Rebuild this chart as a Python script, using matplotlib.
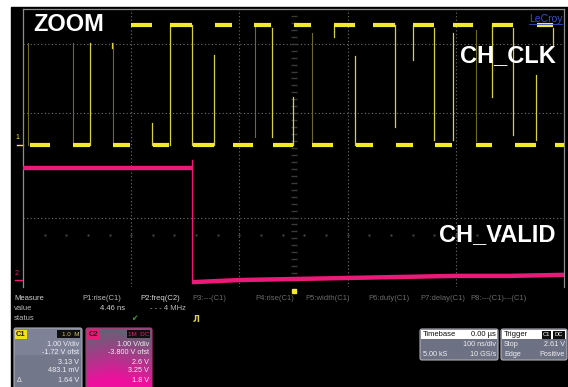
import numpy as np
import matplotlib
matplotlib.use('Agg')
import matplotlib.pyplot as plt
from matplotlib.patches import Rectangle, FancyBboxPatch

plt.rcParams['font.family'] = ['Liberation Sans', 'DejaVu Sans']

# time axis in divisions (0..10), voltage axis in divisions (0..8)
clk_high = 7.54
clk_low = 4.09
clk_high_segs = [(2.00, 2.38), (2.72, 3.12), (3.55, 3.86), (4.27, 4.58), (5.01, 5.32),
                 (5.75, 6.14), (6.47, 6.88), (7.21, 7.60), (7.95, 8.32), (8.67, 9.06),
                 (9.50, 9.80)]
clk_low_segs = [(0.13, 0.50), (0.92, 1.24), (1.66, 1.98), (2.40, 2.70), (3.14, 3.53),
                (3.88, 4.25), (4.62, 4.99), (5.34, 5.73), (6.16, 6.47), (6.89, 7.21),
                (7.62, 7.93), (8.37, 8.67), (9.09, 9.48), (9.83, 10.0)]
# (time, from, to) of the visible clock edges
clk_edges = [(1.24, 4.09, 7.02), (1.64, 7.02, 6.88), (2.38, 4.72, 4.09), (2.72, 4.09, 7.54),
             (3.12, 7.54, 4.09), (3.53, 4.09, 6.68), (4.60, 7.45, 4.32), (4.99, 4.09, 5.47),
             (5.75, 7.54, 7.19), (6.14, 6.65, 4.09), (6.88, 7.54, 4.60), (7.21, 6.53, 7.54),
             (7.60, 7.45, 4.23), (7.95, 4.23, 7.31), (8.67, 5.47, 7.54), (9.06, 7.45, 4.37),
             (9.48, 4.23, 6.10), (9.80, 7.45, 6.96)]
clk_ghost_edges = [(0.09, 7.02, 4.09), (0.92, 7.02, 4.15), (1.66, 7.02, 4.15),
                   (4.29, 7.54, 4.32), (5.34, 7.31, 4.15), (8.37, 7.40, 4.20)]

valid_high = 3.42
valid_high_t = (0.0, 3.12)
valid_edge = (3.12, 3.65, 0.12)
valid_low_t = [3.14, 4.0, 5.0, 6.0, 7.0, 8.0, 9.0, 10.0]
valid_low_v = [0.14, 0.20, 0.23, 0.26, 0.29, 0.32, 0.32, 0.35]

YEL = '#f2ea2a'
YEL_DIM = '#6f6a28'
PINK = '#ea1a78'
GRID = '#707070'

fig = plt.figure(figsize=(5.68, 3.87), dpi=100, facecolor='white')
fig.patches.append(Rectangle((11 / 568, 0), 557 / 568, 380 / 387, transform=fig.transFigure,
                             color='black', zorder=-5))

ax = fig.add_axes([23 / 568, 100 / 387, 541 / 568, 278 / 387], facecolor='black')
ax.set_xlim(0, 10)
ax.set_ylim(0, 8)
ax.set_xticks([])
ax.set_yticks([])
for side, sp in ax.spines.items():
    sp.set_color('#8c8c8c')
    sp.set_linewidth(0.9)
ax.spines['bottom'].set_visible(False)

# graticule
for x in [2, 4, 6, 8]:
    ax.axvline(x, color=GRID, ls=(0, (1, 2.2)), lw=0.8, zorder=1)
for y in [2, 5, 7]:
    ax.axhline(y, color=GRID, ls=(0, (1, 2.2)), lw=0.8, zorder=1)
ax.plot(np.full(39, 5.0), np.arange(0.2, 8, 0.2), ls='none', marker='_', ms=4,
        color='#3a3a3a', zorder=1)
ax.plot(np.arange(0.4, 10, 0.4), np.full(24, 1.5), ls='none', marker='.', ms=1.2,
        color='#4a4a4a', zorder=1)

# CH_CLK
for x, y0, y1 in clk_ghost_edges:
    ax.plot([x, x], [y0, y1], color=YEL_DIM, lw=0.8, zorder=2)
for x, y0, y1 in clk_edges:
    ax.plot([x, x], [y0, y1], color='#d8d040', lw=0.9, zorder=3)
for a, b in clk_high_segs:
    ax.plot([a, b], [clk_high, clk_high], color=YEL, lw=3.0, solid_capstyle='butt', zorder=4)
for a, b in clk_low_segs:
    ax.plot([a, b], [clk_low, clk_low], color=YEL, lw=3.0, solid_capstyle='butt', zorder=4)

# CH_VALID
ax.plot(valid_high_t, [valid_high, valid_high], color=PINK, lw=3.2, solid_capstyle='butt', zorder=4)
ax.plot([valid_edge[0]] * 2, valid_edge[1:], color=PINK, lw=1.0, zorder=4)
ax.plot(valid_low_t, valid_low_v, color=PINK, lw=3.2, solid_capstyle='butt', zorder=4)

# labels
lab = dict(color='white', fontweight='bold', fontsize=17, zorder=6)
ax.text(0.19, 7.55, 'ZOOM', ha='left', va='center', **lab)
ax.text(9.85, 6.66, 'CH_CLK', ha='right', va='center', **lab)
ax.text(9.85, 1.5, 'CH_VALID', ha='right', va='center', **lab)
ax.text(9.97, 7.87, 'LeCroy', ha='right', va='top', color='#3552c8', fontsize=7.5, zorder=6)
ax.plot([9.35, 9.97], [7.56, 7.56], color='#3552c8', lw=0.6, zorder=6)

# channel markers and trigger marker
ax.text(-0.1, 4.2, '1', color=YEL, fontsize=5, ha='center', va='bottom', clip_on=False)
ax.plot([-0.11, 0], [clk_low, clk_low], color=YEL, lw=1, clip_on=False)
ax.text(-0.12, 0.3, '2', color=PINK, fontsize=5, ha='center', va='bottom', clip_on=False)
ax.plot([-0.14, -0.02], [0.2, 0.2], color=PINK, lw=1, clip_on=False)
ax.plot([5.0], [-0.12], marker='s', ms=3, color=YEL, clip_on=False)

# bottom status area (pixel coordinates)
ov = fig.add_axes([0, 0, 1, 1], facecolor='none')
ov.set_xlim(0, 568)
ov.set_ylim(387, 0)
ov.axis('off')

small = dict(fontsize=5.5, va='center')
ov.text(14, 299, 'Measure', color='#d0d0d0', **small)
ov.text(82, 299, 'P1:rise(C1)', color='#b8b8b8', **small)
ov.text(140, 299, 'P2:freq(C2)', color='#d8d8d8', **small)
for x, s in [(192, 'P3:---(C1)'), (255, 'P4:rise(C1)'), (305, 'P5:width(C1)'),
             (368, 'P6:duty(C1)'), (420, 'P7:delay(C1)'), (470, 'P8:---(C1)---(C1)')]:
    ov.text(x, 299, s, color='#6a6a6a', **small)
ov.text(14, 309, 'value', color='#b8b8b8', **small)
ov.text(100, 309, '4.46 ns', color='#d0d0d0', **small)
ov.text(150, 309, '- - - 4 MHz', color='#b8b8b8', **small)
ov.text(14, 319, 'status', color='#b8b8b8', **small)
ov.text(131, 319, '\u2714', color='#3aa832', fontsize=5.5, va='center', family='DejaVu Sans')
ov.text(193, 319, 'Л', color='#e0d040', fontsize=6, va='center', fontweight='bold',
        family='DejaVu Sans')

# C1 panel
ov.add_patch(FancyBboxPatch((14, 328), 68, 62, boxstyle='round,pad=0,rounding_size=2',
                            fc='#7d8297', ec='#a8a8b0', lw=0.8))
ov.add_patch(Rectangle((15, 355), 66, 35, fc='#73778a', ec='none'))
ov.add_patch(Rectangle((15, 330), 12, 9, fc='#f0e020', ec='none'))
ov.text(16, 334.5, 'C1', color='#202020', fontsize=5.5, fontweight='bold', va='center')
ov.add_patch(Rectangle((57, 330), 23, 8, fc='#101010', ec='none'))
ov.text(79, 334, '1.0  M', color='#d0c060', fontsize=4.5, ha='right', va='center')
for y, s in [(344, '1.00 V/div'), (353, '-1.72 V ofst'), (362, '3.13 V'),
             (371, '483.1 mV'), (381, '1.64 V')]:
    ov.text(79, y, s, color='#eeeef4', fontsize=5.2, ha='right', va='center')
ov.text(17, 381, 'Δ', color='#eeeef4', fontsize=5, va='center')

# C2 panel with magenta glow
ov.add_patch(FancyBboxPatch((86, 328), 66, 62, boxstyle='round,pad=0,rounding_size=2',
                            fc='#6a5a70', ec='#c03080', lw=0.8))
gy, gx = np.mgrid[0:1:60j, 0:1:66j]
glow = np.clip(gy * 1.15 - 0.25 * np.abs(gx - 0.4), 0, 1)
top = np.array([0.40, 0.38, 0.46])
bot = np.array([0.94, 0.06, 0.62])
img = top[None, None, :] * (1 - glow[..., None]) + bot[None, None, :] * glow[..., None]
ov.imshow(img, extent=(87, 151, 387, 329), aspect='auto', zorder=1.5)
ov.add_patch(Rectangle((88, 330), 11, 9, fc='#ea1a78', ec='none', zorder=2))
ov.text(89, 334.5, 'C2', color='#202020', fontsize=5.5, fontweight='bold', va='center', zorder=3)
ov.add_patch(Rectangle((127, 330), 23, 8, fc='#101010', ec='none', zorder=2))
ov.text(149, 334, '1M  DC', color='#e02070', fontsize=4.5, ha='right', va='center', zorder=3)
for y, s in [(344, '1.00 V/div'), (353, '-3.800 V ofst'), (362, '2.6 V'),
             (371, '3.25 V'), (381, '1.8 V')]:
    ov.text(149, y, s, color='#f0eef4', fontsize=5.2, ha='right', va='center', zorder=3)

# timebase / trigger panels
ov.add_patch(FancyBboxPatch((420, 329), 78, 31, boxstyle='round,pad=0,rounding_size=2',
                            fc='#6c7184', ec='#b0b0b8', lw=0.8))
ov.add_patch(Rectangle((421, 330), 76, 9, fc='white', ec='none'))
ov.text(423, 334.5, 'Timebase', color='#101010', fontsize=5.5, va='center')
ov.text(496, 334.5, '0.00 µs', color='#101010', fontsize=5.5, ha='right', va='center')
ov.text(496, 345, '100 ns/div', color='#f0f0f0', fontsize=5.2, ha='right', va='center')
ov.text(423, 354, '5.00 kS', color='#f0f0f0', fontsize=5.2, va='center')
ov.text(496, 354, '10 GS/s', color='#f0f0f0', fontsize=5.2, ha='right', va='center')

ov.add_patch(FancyBboxPatch((501, 329), 66, 31, boxstyle='round,pad=0,rounding_size=2',
                            fc='#6c7184', ec='#b0b0b8', lw=0.8))
ov.add_patch(Rectangle((502, 330), 64, 9, fc='white', ec='none'))
ov.text(504, 334.5, 'Trigger', color='#101010', fontsize=5.5, va='center')
ov.add_patch(Rectangle((542, 330.5), 9, 8, fc='#101010', ec='none'))
ov.add_patch(Rectangle((553, 330.5), 12, 8, fc='#101010', ec='none'))
ov.text(546.5, 334.5, 'C1', color='white', fontsize=4.2, ha='center', va='center')
ov.text(559, 334.5, 'DC', color='white', fontsize=4.2, ha='center', va='center')
ov.text(504, 345, 'Stop', color='#f0f0f0', fontsize=5.2, va='center')
ov.text(565, 345, '2.61 V', color='#f0f0f0', fontsize=5.2, ha='right', va='center')
ov.text(504, 354, 'Edge', color='#f0f0f0', fontsize=5.2, va='center')
ov.text(565, 354, 'Positive', color='#f0f0f0', fontsize=5.2, ha='right', va='center')

fig.savefig('out.png', dpi=100, facecolor='white')
